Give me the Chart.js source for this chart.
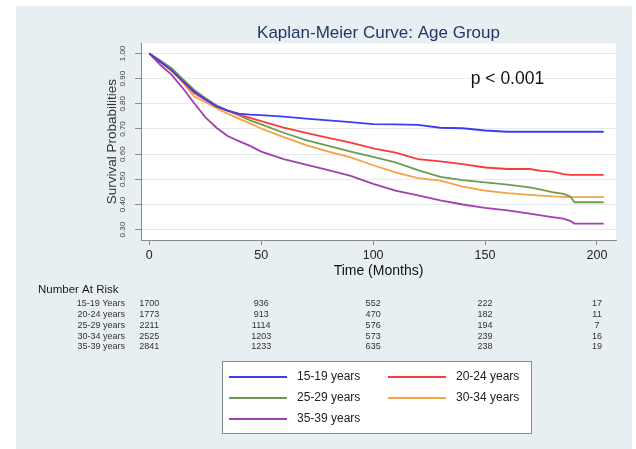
<!DOCTYPE html>
<html>
<head>
<meta charset="utf-8">
<script src="https://cdn.jsdelivr.net/npm/chart.js@4.4.1/dist/chart.umd.min.js"></script>
<style>
  html, body { margin: 0; padding: 0; background: #fff; }
  #wrap { position: relative; width: 636px; height: 449px; }
</style>
</head>
<body>
<div id="wrap"><canvas id="km"></canvas></div>
<script>
// survival values at these months
var months = [0, 5, 10, 15, 20, 25, 30, 35, 40, 45, 50, 60, 70, 80, 90, 100, 110, 120, 130, 140, 150, 160, 170, 175, 180, 185, 188, 190, 203];
var surv1519 = [1, 0.966, 0.934, 0.890, 0.849, 0.818, 0.790, 0.773, 0.761, 0.757, 0.755, 0.749, 0.741, 0.734, 0.727, 0.719, 0.718, 0.716, 0.705, 0.703, 0.694, 0.689, 0.689, 0.689, 0.689, 0.689, 0.689, 0.689, 0.689];
var surv2024 = [1, 0.966, 0.934, 0.888, 0.843, 0.816, 0.790, 0.773, 0.757, 0.744, 0.731, 0.705, 0.685, 0.665, 0.646, 0.623, 0.606, 0.580, 0.571, 0.560, 0.547, 0.541, 0.541, 0.534, 0.531, 0.521, 0.518, 0.518, 0.518];
var surv2529 = [1, 0.972, 0.941, 0.898, 0.856, 0.823, 0.794, 0.773, 0.755, 0.734, 0.718, 0.685, 0.656, 0.633, 0.610, 0.589, 0.567, 0.537, 0.510, 0.497, 0.488, 0.479, 0.468, 0.459, 0.449, 0.442, 0.432, 0.409, 0.409];
var surv3034 = [1, 0.967, 0.928, 0.886, 0.829, 0.807, 0.783, 0.761, 0.741, 0.722, 0.702, 0.668, 0.636, 0.610, 0.587, 0.556, 0.528, 0.505, 0.495, 0.471, 0.455, 0.445, 0.438, 0.435, 0.432, 0.430, 0.429, 0.429, 0.429];
var surv3539 = [1, 0.954, 0.915, 0.862, 0.803, 0.747, 0.705, 0.672, 0.652, 0.633, 0.610, 0.580, 0.558, 0.537, 0.514, 0.482, 0.455, 0.436, 0.416, 0.400, 0.387, 0.377, 0.364, 0.357, 0.350, 0.344, 0.335, 0.324, 0.324];

var groupNames = ['15-19 years', '20-24 years', '25-29 years', '30-34 years', '35-39 years'];
var lineColors = ['#3c3cf6', '#fb3b3b', '#6f9a52', '#f5a343', '#a23fb2'];

var xTickValues = [0, 50, 100, 150, 200];
var yTickValues = [0.3, 0.4, 0.5, 0.6, 0.7, 0.8, 0.9, 1.0];

// number at risk table
var riskTimes = [0, 50, 100, 150, 200];
var riskRowLabels = ['15-19 Years', '20-24 years', '25-29 years', '30-34 years', '35-39 years'];
var risk1519 = [1700, 936, 552, 222, 17];
var risk2024 = [1773, 913, 470, 182, 11];
var risk2529 = [2211, 1114, 576, 194, 7];
var risk3034 = [2525, 1203, 573, 239, 16];
var risk3539 = [2841, 1233, 635, 238, 19];

var pValueText = 'p < 0.001';
var pValueAt = { x: 160, y: 0.896 };

var FONT = "'Liberation Sans', Arial, sans-serif";

function toPoints(vals) {
  return months.map(function (m, i) { return { x: m, y: vals[i] }; });
}

var allSurv = [surv1519, surv2024, surv2529, surv3034, surv3539];
var allRisk = [risk1519, risk2024, risk2529, risk3034, risk3539];

var datasets = allSurv.map(function (s, i) {
  return {
    label: groupNames[i],
    data: toPoints(s),
    borderColor: lineColors[i],
    backgroundColor: lineColors[i],
    borderWidth: 1.8,
    pointRadius: 0,
    tension: 0,
    fill: false
  };
});

var backdrop = {
  id: 'backdrop',
  beforeDraw: function (chart) {
    var ctx = chart.ctx, a = chart.chartArea;
    ctx.save();
    ctx.fillStyle = '#e8eff2';
    ctx.fillRect(16, 6, 616, 443);
    ctx.fillStyle = '#ffffff';
    ctx.fillRect(a.left, a.top, a.right - a.left, a.bottom - a.top);
    ctx.restore();
  }
};

var extras = {
  id: 'extras',
  afterDraw: function (chart) {
    var ctx = chart.ctx, xs = chart.scales.x, ys = chart.scales.y;
    ctx.save();
    // p value
    ctx.fillStyle = '#111';
    ctx.font = '17.5px ' + FONT;
    ctx.textAlign = 'center';
    ctx.textBaseline = 'middle';
    ctx.fillText(pValueText, xs.getPixelForValue(pValueAt.x), ys.getPixelForValue(pValueAt.y));

    // number at risk
    ctx.fillStyle = '#1a1a1a';
    ctx.font = '11.5px ' + FONT;
    ctx.textAlign = 'left';
    ctx.fillText('Number At Risk', 38, 290);
    var rowY = [304, 315, 325.5, 336.5, 347];
    ctx.font = '9px ' + FONT;
    ctx.fillStyle = '#333';
    for (var r = 0; r < allRisk.length; r++) {
      ctx.textAlign = 'right';
      ctx.fillText(riskRowLabels[r], 125, rowY[r]);
      ctx.textAlign = 'center';
      for (var c = 0; c < riskTimes.length; c++) {
        ctx.fillText(String(allRisk[r][c]), xs.getPixelForValue(riskTimes[c]), rowY[r]);
      }
    }

    // legend box
    ctx.fillStyle = '#ffffff';
    ctx.fillRect(222, 361, 309, 72);
    ctx.strokeStyle = '#8a8a8a';
    ctx.lineWidth = 1;
    ctx.strokeRect(222.5, 361.5, 309, 72);
    var colX = [229, 388], rowsY = [377, 398, 419];
    ctx.font = '12px ' + FONT;
    ctx.textAlign = 'left';
    chart.data.datasets.forEach(function (ds, i) {
      var lx = colX[i % 2], ly = rowsY[Math.floor(i / 2)];
      ctx.strokeStyle = ds.borderColor;
      ctx.lineWidth = 2;
      ctx.beginPath();
      ctx.moveTo(lx, ly);
      ctx.lineTo(lx + 58, ly);
      ctx.stroke();
      ctx.fillStyle = '#222';
      ctx.fillText(ds.label, lx + 68, ly);
    });
    ctx.restore();
  }
};

new Chart(document.getElementById('km'), {
  type: 'line',
  data: { datasets: datasets },
  plugins: [backdrop, extras],
  options: {
    responsive: true,
    maintainAspectRatio: false,
    animation: false,
    devicePixelRatio: 1,
    layout: { padding: { left: 104, right: 20, top: 0, bottom: 169 } },
    plugins: {
      legend: { display: false },
      tooltip: { enabled: false },
      title: {
        display: true,
        fullSize: false,
        text: 'Kaplan-Meier Curve: Age Group',
        color: '#1f3866',
        font: { family: FONT, size: 17, weight: 'normal' },
        padding: { top: 23, bottom: 0 }
      }
    },
    scales: {
      x: {
        type: 'linear',
        min: -3.7,
        max: 208.5,
        afterFit: function (s) { s.height = 40; },
        afterBuildTicks: function (s) { s.ticks = xTickValues.map(function (v) { return { value: v }; }); },
        grid: { drawOnChartArea: false, drawTicks: true, tickLength: 5, tickColor: '#8a8a8a' },
        border: { display: true, color: '#8a8a8a', width: 1 },
        ticks: { color: '#222', font: { family: FONT, size: 12.5 }, padding: 3, maxRotation: 0 },
        title: {
          display: true,
          text: 'Time (Months)',
          color: '#111',
          font: { family: FONT, size: 14 },
          padding: { top: 0, bottom: 0 }
        }
      },
      y: {
        type: 'linear',
        min: 0.259,
        max: 1.04,
        afterFit: function (s) { s.width = 37; },
        afterBuildTicks: function (s) { s.ticks = yTickValues.map(function (v) { return { value: v }; }); },
        grid: { color: '#e6eaec', lineWidth: 1, drawTicks: true, tickLength: 6, tickColor: '#8a8a8a' },
        border: { display: true, color: '#8a8a8a', width: 1 },
        ticks: {
          color: '#444',
          font: { family: FONT, size: 8 },
          padding: 4,
          minRotation: 90,
          maxRotation: 90,
          crossAlign: 'center',
          callback: function (v) { return Number(v).toFixed(2); }
        },
        title: {
          display: true,
          text: 'Survival Probabilities',
          color: '#333',
          font: { family: FONT, size: 13.5 },
          padding: { top: 0, bottom: 0 }
        }
      }
    }
  }
});
</script>
</body>
</html>
